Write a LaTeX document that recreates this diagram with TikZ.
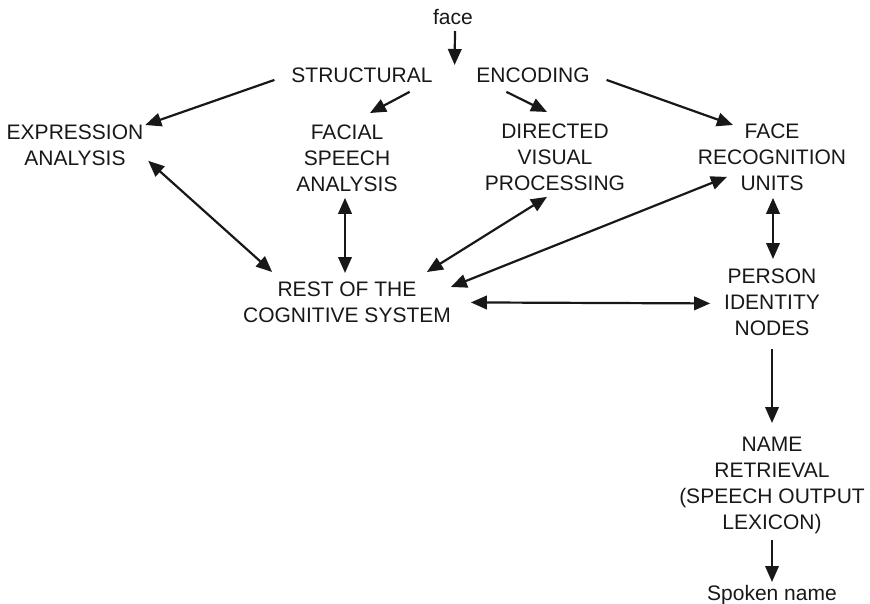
\documentclass[tikz,border=0pt]{standalone}
\usepackage{fontspec}
\setmainfont{Liberation Sans}
\usetikzlibrary{arrows.meta}
\definecolor{ink}{HTML}{1A1718}
\begin{document}
\begin{tikzpicture}[x=1pt,y=-1pt,
  lbl/.style={inner sep=0pt,outer sep=0pt,align=center,text=ink,
    font=\fontsize{21}{26}\selectfont},
  tip/.tip={Triangle[length=16pt,width=13.5pt]},
  arr/.style={draw=ink,line width=2.2pt,-tip},
  darr/.style={draw=ink,line width=2.2pt,tip-tip}]
\useasboundingbox (0,0) rectangle (870,604);

% stages of the model
\node[lbl,anchor=base]  (face) at (453,25)  {face};
\node[lbl,anchor=north] (st)   at (362,68)  {STRUCTURAL};
\node[lbl,anchor=north] (en)   at (533,68)  {ENCODING};
\node[lbl,anchor=north] (ex)   at (75,125)  {EXPRESSION\\ANALYSIS};
\node[lbl,anchor=north] (fs)   at (347,125) {FACIAL\\SPEECH\\ANALYSIS};
\node[lbl,anchor=north] (dv)   at (555,124) {DIRECTED\\VISUAL\\PROCESSING};
\node[lbl,anchor=north] (fr)   at (772,124) {FACE\\RECOGNITION\\UNITS};
\node[lbl,anchor=north] (rc)   at (347,282) {REST OF THE\\COGNITIVE SYSTEM};
\node[lbl,anchor=north] (pi)   at (772,269) {PERSON\\IDENTITY\\NODES};
\node[lbl,anchor=north] (nr)   at (772,437) {NAME\\RETRIEVAL\\(SPEECH OUTPUT\\LEXICON)};
\node[lbl,anchor=base]  (sn)   at (772,600) {Spoken name};

% one-way routes
\draw[arr] ([shift={(2,6)}]face.south) -- ([shift={(22,-3)}]st.north east);
\draw[arr] ([shift={(-17,4.5)}]st.west) -- ([shift={(2,0)}]ex.north east);
\draw[arr] ([shift={(-23,9)}]st.south east) -- ([shift={(23,-12)}]fs.north);
\draw[arr] ([shift={(30,9)}]en.south west) -- ([shift={(-8,-12)}]dv.north);
\draw[arr] ([shift={(17,4.5)}]en.east) -- ([shift={(35,1)}]fr.north west);
\draw[arr] ([shift={(0,13)}]pi.south) -- ([shift={(0,-14)}]nr.north);
\draw[arr] ([shift={(0,6)}]nr.south) -- ([shift={(0,-18)}]sn.base);

% two-way links
\draw[darr] ([shift={(5,-5)}]ex.south east) -- ([shift={(29,-10)}]rc.north west);
\draw[darr] ([shift={(-2,6)}]fs.south) -- ([shift={(-2,-9)}]rc.north);
\draw[darr] ([shift={(-8,6)}]dv.south) -- ([shift={(-24,-10)}]rc.north east);
\draw[darr] ([shift={(29,19.5)}]fr.west) -- ([shift={(0,5)}]rc.north east);
\draw[darr] ([shift={(1,7)}]fr.south) -- ([shift={(1,-10)}]pi.north);
\draw[darr] ([shift={(20,0)}]rc.east) -- ([shift={(-14,1)}]pi.west);
\end{tikzpicture}
\end{document}
